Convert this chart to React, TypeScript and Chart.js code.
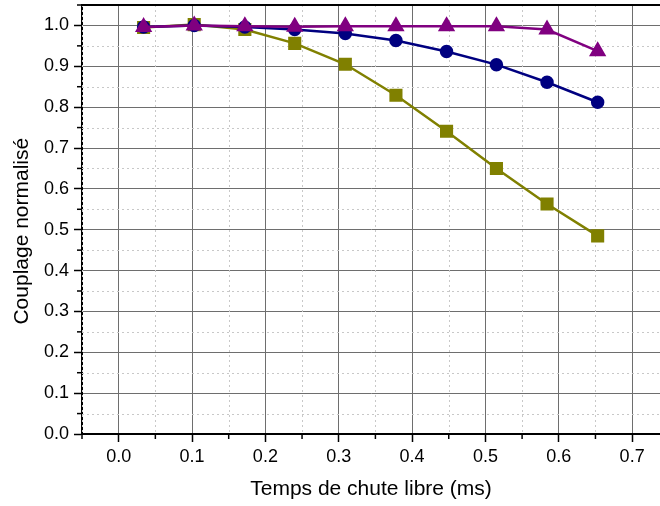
import React, { useEffect, useRef } from "react";
import { Chart, registerables } from "chart.js";

Chart.register(...registerables);

const timeMs = [0.034, 0.103, 0.172, 0.240, 0.309, 0.378, 0.447, 0.515, 0.584, 0.653];
const seriesOlive = [0.995, 1.002, 0.99, 0.956, 0.905, 0.829, 0.741, 0.65, 0.563, 0.485];
const seriesNavy = [0.996, 1.0, 0.996, 0.99, 0.98, 0.963, 0.936, 0.904, 0.861, 0.812];
const seriesPurple = [0.996, 1.0, 0.998, 0.997, 0.998, 0.998, 0.998, 0.998, 0.99, 0.937];
const xTicks = [0, 0.1, 0.2, 0.3, 0.4, 0.5, 0.6, 0.7];
const yTicks = [0, 0.1, 0.2, 0.3, 0.4, 0.5, 0.6, 0.7, 0.8, 0.9, 1.0];
const xMinor = [-0.05, 0.05, 0.15, 0.25, 0.35, 0.45, 0.55, 0.65, 0.75];
const yMinor = [0.05, 0.15, 0.25, 0.35, 0.45, 0.55, 0.65, 0.75, 0.85, 0.95, 1.05];

const FONT = "'Liberation Sans', Arial, sans-serif";

const pts = (ys: number[]) => timeMs.map((x, i) => ({ x, y: ys[i] }));

const minorPlugin = {
  id: "minorGrid",
  beforeDatasetsDraw(chart: any) {
    const { ctx, chartArea } = chart;
    const xs = chart.scales.x;
    const ys = chart.scales.y;
    ctx.save();
    ctx.beginPath();
    ctx.rect(chartArea.left, chartArea.top, chartArea.right - chartArea.left, chartArea.bottom - chartArea.top);
    ctx.clip();
    ctx.strokeStyle = "#c8c8c8";
    ctx.lineWidth = 1;
    ctx.setLineDash([2, 3]);
    for (const v of xMinor) {
      const p = Math.round(xs.getPixelForValue(v)) + 0.5;
      ctx.beginPath();
      ctx.moveTo(p, chartArea.top);
      ctx.lineTo(p, chartArea.bottom);
      ctx.stroke();
    }
    for (const v of yMinor) {
      const p = Math.round(ys.getPixelForValue(v)) + 0.5;
      ctx.beginPath();
      ctx.moveTo(chartArea.left, p);
      ctx.lineTo(chartArea.right, p);
      ctx.stroke();
    }
    ctx.restore();
  },
  afterDraw(chart: any) {
    const { ctx, chartArea } = chart;
    const xs = chart.scales.x;
    const ys = chart.scales.y;
    ctx.save();
    ctx.strokeStyle = "#000";
    ctx.lineWidth = 1.5;
    for (const v of xMinor) {
      const p = xs.getPixelForValue(v);
      if (p < chartArea.left - 1 || p > chartArea.right) continue;
      ctx.beginPath();
      ctx.moveTo(p, chartArea.bottom);
      ctx.lineTo(p, chartArea.bottom + 5);
      ctx.stroke();
    }
    for (const v of yMinor) {
      const p = ys.getPixelForValue(v);
      ctx.beginPath();
      ctx.moveTo(chartArea.left, p);
      ctx.lineTo(chartArea.left - 5, p);
      ctx.stroke();
    }
    ctx.lineWidth = 2;
    ctx.beginPath();
    ctx.moveTo(chartArea.left, chartArea.top);
    ctx.lineTo(chartArea.right, chartArea.top);
    ctx.stroke();
    ctx.restore();
  },
};

export default function App() {
  const ref = useRef<HTMLCanvasElement>(null);
  useEffect(() => {
    const canvas = ref.current!;
    const chart = new Chart(canvas, {
      type: "line",
      data: {
        datasets: [
          {
            label: "purple",
            data: pts(seriesPurple),
            borderColor: "#800080",
            backgroundColor: "#800080",
            borderWidth: 2.5,
            pointStyle: "triangle",
            pointRadius: 7.5,
          },
          {
            label: "navy",
            data: pts(seriesNavy),
            borderColor: "#000080",
            backgroundColor: "#000080",
            borderWidth: 2.5,
            pointStyle: "circle",
            pointRadius: 5.5,
          },
          {
            label: "olive",
            data: pts(seriesOlive),
            borderColor: "#808000",
            backgroundColor: "#808000",
            borderWidth: 2.5,
            pointStyle: "rect",
            pointRadius: 7.5,
          },
        ],
      },
      options: {
        animation: false,
        responsive: false,
        maintainAspectRatio: false,
        layout: { autoPadding: false, padding: { top: 5, right: 0, left: 0, bottom: 0 } },
        plugins: { legend: { display: false }, tooltip: { enabled: false } },
        scales: {
          x: {
            type: "linear",
            min: -0.05,
            max: 0.738,
            afterBuildTicks: (s: any) => {
              s.ticks = xTicks.map((v) => ({ value: v }));
            },
            afterFit: (s: any) => {
              s.height = 72;
              s.paddingLeft = 0;
              s.paddingRight = 0;
            },
            ticks: {
              color: "#000",
              font: { family: FONT, size: 18 },
              padding: 4,
              maxRotation: 0,
              autoSkip: false,
              callback: (v: any) => Number(v).toFixed(1),
            },
            grid: { color: "#6e6e6e", lineWidth: 1, tickColor: "#000", tickLength: 8, tickWidth: 1.5 },
            border: { color: "#000", width: 2 },
            title: {
              display: true,
              text: "Temps de chute libre (ms)",
              color: "#000",
              font: { family: FONT, size: 21 },
              padding: { top: 0, bottom: 4 },
            },
          },
          y: {
            type: "linear",
            min: 0,
            max: 1.05,
            afterBuildTicks: (s: any) => {
              s.ticks = yTicks.map((v) => ({ value: v }));
            },
            afterFit: (s: any) => {
              s.width = 82;
              s.paddingTop = 0;
              s.paddingBottom = 0;
            },
            ticks: {
              color: "#000",
              font: { family: FONT, size: 18 },
              padding: 5,
              autoSkip: false,
              callback: (v: any) => Number(v).toFixed(1),
            },
            grid: { color: "#6e6e6e", lineWidth: 1, tickColor: "#000", tickLength: 8, tickWidth: 1.5 },
            border: { color: "#000", width: 2 },
            title: {
              display: true,
              text: "Couplage normalisé    ",
              color: "#000",
              font: { family: FONT, size: 21 },
              padding: { top: 10, bottom: 0 },
            },
          },
        },
      },
      plugins: [minorPlugin],
    } as any);
    return () => chart.destroy();
  }, []);
  return (
    <div style={{ position: "fixed", left: 0, top: 0, width: 660, height: 506, background: "#fff" }}>
      <canvas ref={ref} width={660} height={506} style={{ display: "block" }} />
    </div>
  );
}
